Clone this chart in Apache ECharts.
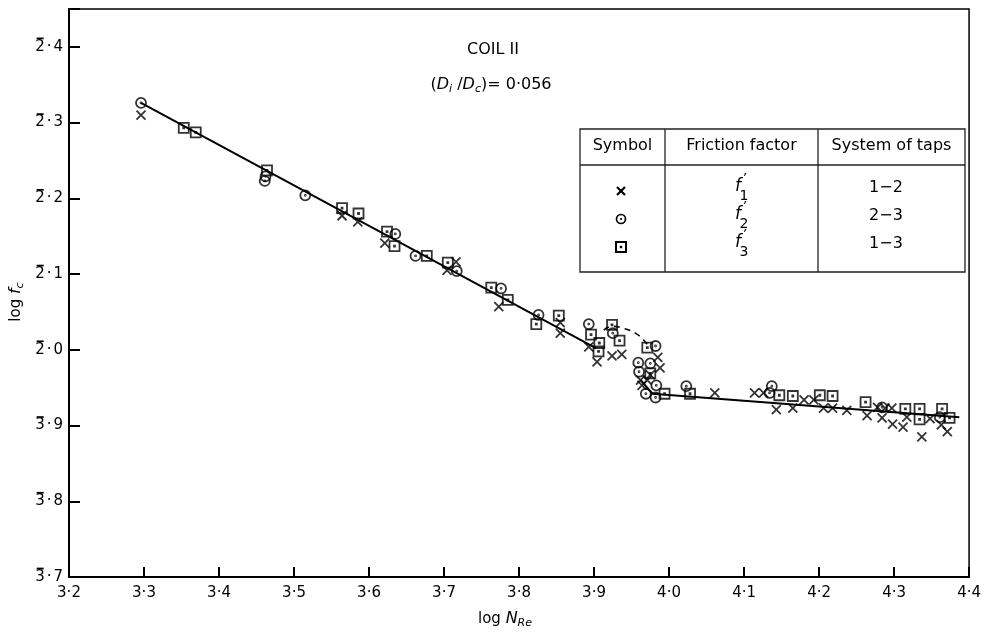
<!DOCTYPE html>
<html><head><meta charset="utf-8">
<script src="https://cdn.jsdelivr.net/npm/echarts@6/dist/echarts.min.js"></script>
<style>html,body{margin:0;padding:0;background:#fff}#c{width:984px;height:632px}</style>
</head><body><div id="c"></div>
<script>
// ---------- data ----------
const xTickValues = [3.2,3.3,3.4,3.5,3.6,3.7,3.8,3.9,4.0,4.1,4.2,4.3,4.4];
const xTickLabels = ['3·2','3·3','3·4','3·5','3·6','3·7','3·8','3·9','4·0','4·1','4·2','4·3','4·4'];
const yTickValues = [-2.3,-2.2,-2.1,-2.0,-1.9,-1.8,-1.7,-1.6];
// characteristic digit (shown with a bar: 3̄, 2̄) and mantissa digit
const yTickChar = ['3','3','3','2','2','2','2','2'];
const yTickMant = ['7','8','9','0','1','2','3','4'];

// f'1 (taps 1-2), crosses
const f1X = [3.296,3.564,3.585,3.621,3.704,3.716,3.773,3.855,3.855,3.893,3.904,3.924,3.937,3.962,3.964,3.971,3.975,3.985,3.988,
             4.061,4.114,4.126,4.143,4.165,4.180,4.193,4.206,4.218,4.237,4.264,4.278,4.288,4.297,4.284,4.298,4.312,4.317,4.337,4.348,4.363,4.371];
const f1Y = [-1.690,-1.823,-1.831,-1.859,-1.895,-1.884,-1.943,-1.964,-1.978,-1.996,-2.016,-2.008,-2.006,-2.040,-2.047,-2.040,-2.033,-2.010,-2.024,
             -2.057,-2.057,-2.057,-2.079,-2.077,-2.066,-2.066,-2.077,-2.077,-2.080,-2.087,-2.076,-2.077,-2.077,-2.090,-2.098,-2.102,-2.089,-2.115,-2.091,-2.099,-2.108];
// f'2 (taps 2-3), dotted circles
const f2X = [3.296,3.462,3.461,3.515,3.635,3.662,3.717,3.776,3.826,3.893,3.925,3.982,3.959,3.960,3.975,3.983,3.969,3.982,4.023,4.137,4.134,4.284,4.361];
const f2Y = [-1.674,-1.771,-1.777,-1.796,-1.847,-1.876,-1.896,-1.919,-1.954,-1.966,-1.978,-1.995,-2.017,-2.029,-2.018,-2.047,-2.058,-2.063,-2.048,-2.048,-2.057,-2.076,-2.089];
// f'3 (taps 1-3), dotted squares
const f3X = [3.353,3.369,3.464,3.564,3.586,3.624,3.634,3.677,3.705,3.763,3.785,3.823,3.853,3.896,3.907,3.906,3.924,3.934,3.971,3.975,3.994,
             4.028,4.147,4.165,4.201,4.218,4.262,4.315,4.334,4.334,4.364,4.374];
const f3Y = [-1.707,-1.713,-1.763,-1.813,-1.820,-1.844,-1.863,-1.876,-1.885,-1.918,-1.934,-1.966,-1.955,-1.980,-1.991,-2.002,-1.967,-1.988,-1.997,-2.031,-2.058,
             -2.058,-2.060,-2.061,-2.060,-2.061,-2.069,-2.078,-2.078,-2.092,-2.078,-2.090];
// fitted lines
const lamLineX = [3.296, 3.903];
const lamLineY = [-1.674, -1.998];
const turbLineX = [3.962, 3.978, 4.387];
const turbLineY = [-2.040, -2.058, -2.089];
const dashX = [3.913, 3.925, 3.940, 3.955, 3.966, 3.973];
const dashY = [-1.974, -1.969, -1.972, -1.978, -1.987, -1.996];

// ---------- chart ----------
const FONT = 'DejaVu Sans';
const INK = '#000';
const LABEL_SIZE = 15, LABEL_MARGIN = 6, DOT_PAD = 2, GRID_LEFT = 69;
const pairs = (xs, ys) => xs.map((x, i) => [x, ys[i]]);
const findIdx = (arr, v) => arr.findIndex(t => Math.abs(t - v) < 1e-6);

const SYM_X = 'path://M2,2L18,18M18,2L2,18';
const SYM_O = 'path://M10,1A9,9,0,1,1,10,19A9,9,0,1,1,10,1Z M10,9.1A0.9,0.9,0,1,1,10,10.9A0.9,0.9,0,1,1,10,9.1Z';
const SYM_S = 'path://M1,1H19V19H1Z M9.1,9.1H10.9V10.9H9.1Z';

const markStyle = {color: 'transparent', borderColor: INK, borderWidth: 1.8};

function tableSym(kind, cx, cy) {
  if (kind === 'x') return {type: 'group', children: [
    {type: 'line', shape: {x1: cx-4, y1: cy-4, x2: cx+4, y2: cy+4}, style: {stroke: INK, lineWidth: 2.2}},
    {type: 'line', shape: {x1: cx+4, y1: cy-4, x2: cx-4, y2: cy+4}, style: {stroke: INK, lineWidth: 2.2}}]};
  if (kind === 'o') return {type: 'group', children: [
    {type: 'circle', shape: {cx: cx, cy: cy, r: 4.5}, style: {fill: 'none', stroke: INK, lineWidth: 1.7}},
    {type: 'circle', shape: {cx: cx, cy: cy, r: 1.1}, style: {fill: INK}}]};
  return {type: 'group', children: [
    {type: 'rect', shape: {x: cx-5, y: cy-5, width: 10, height: 10}, style: {fill: 'none', stroke: INK, lineWidth: 2}},
    {type: 'rect', shape: {x: cx-1.2, y: cy-1.2, width: 2.4, height: 2.4}, style: {fill: INK}}]};
}
function txt(text, x, y, size, extra) {
  return {type: 'text', x: x, y: y, style: Object.assign({text: text, fontSize: size, fontFamily: FONT, fill: INK, align: 'center', verticalAlign: 'middle'}, extra || {})};
}
function fPrime(x, y, n) {
  return {type: 'group', children: [
    txt('f', x, y, 17, {fontStyle: 'italic'}),
    txt('\u2019', x + 6, y - 8, 13, {fontStyle: 'italic'}),
    txt(String(n), x + 6, y + 9, 14)
  ]};
}

const tableL = 580, tableR = 965, tableT = 129, tableB = 272, headB = 165, col1 = 665, col2 = 818;
const rowsY = [188, 216, 244];
const symNames = ['x', 'o', 's'];
const tapNames = ['1\u22122', '2\u22123', '1\u22123'];

const richSub = (size) => ({
  i: {fontStyle: 'italic', fontSize: size, fontFamily: FONT, lineHeight: 20, verticalAlign: 'middle', color: INK},
  s: {fontStyle: 'italic', fontSize: Math.round(size * 0.68), fontFamily: FONT, lineHeight: 11, verticalAlign: 'bottom', color: INK}
});

const graphic = [
  txt('COIL II', 493, 50, 16),
  {type: 'text', x: 491, y: 85, style: {
    text: '({i|D}{s|i} /{i|D}{s|c})= 0·056', fontSize: 16, fontFamily: FONT, fill: INK, align: 'center', verticalAlign: 'middle',
    rich: richSub(16)}},
  {type: 'text', x: 505, y: 619, style: {
    text: 'log {i|N}{s|Re}', fontSize: 15, fontFamily: FONT, fill: INK, align: 'center', verticalAlign: 'middle',
    rich: richSub(16)}},
  {type: 'text', x: 16, y: 302, rotation: Math.PI / 2, style: {
    text: 'log {i|f}{s|c}', fontSize: 15, fontFamily: FONT, fill: INK, align: 'center', verticalAlign: 'middle',
    rich: richSub(16)}},
  // table
  {type: 'rect', shape: {x: tableL, y: tableT, width: tableR - tableL, height: tableB - tableT}, style: {fill: '#fff', stroke: '#222', lineWidth: 1.3}},
  {type: 'line', shape: {x1: tableL, y1: headB, x2: tableR, y2: headB}, style: {stroke: '#222', lineWidth: 1.3}},
  {type: 'line', shape: {x1: col1, y1: tableT, x2: col1, y2: tableB}, style: {stroke: '#222', lineWidth: 1.3}},
  {type: 'line', shape: {x1: col2, y1: tableT, x2: col2, y2: tableB}, style: {stroke: '#222', lineWidth: 1.3}},
  txt('Symbol', (tableL + col1) / 2, 146, 16),
  txt('Friction factor', (col1 + col2) / 2, 146, 16),
  txt('System of taps', (col2 + tableR) / 2, 146, 16)
];
rowsY.forEach((y, i) => {
  graphic.push(tableSym(symNames[i], 621, y + 3));
  graphic.push(fPrime(738, y - 1, i + 1));
  graphic.push(txt(tapNames[i], 886, y, 16));
});

const chart = echarts.init(document.getElementById('c'), null, {renderer: 'canvas'});
chart.setOption({
  animation: false,
  backgroundColor: '#fff',
  grid: {left: GRID_LEFT, right: 8, top: 9, bottom: 55, show: true, borderColor: INK, borderWidth: 1.5, backgroundColor: 'transparent'},
  xAxis: {
    type: 'value', min: 3.2, max: 4.4, interval: 0.1,
    axisLine: {lineStyle: {color: INK, width: 2}},
    axisTick: {inside: true, length: 10, lineStyle: {color: INK, width: 2}},
    splitLine: {show: false},
    axisLabel: {color: INK, fontSize: 15, fontFamily: FONT, margin: 9,
      formatter: v => { const k = findIdx(xTickValues, v); return k < 0 ? '' : xTickLabels[k]; }}
  },
  yAxis: {
    type: 'value', min: -2.3, max: -1.55, interval: 0.1,
    axisLine: {lineStyle: {color: INK, width: 2}},
    axisTick: {inside: true, length: 11, lineStyle: {color: INK, width: 2}},
    splitLine: {show: false},
    axisLabel: {color: INK, fontSize: LABEL_SIZE, fontFamily: FONT, margin: LABEL_MARGIN,
      formatter: v => { const k = findIdx(yTickValues, v); if (k < 0) return ''; return '{n|' + yTickChar[k] + '}{p|·}{n|' + yTickMant[k] + '}'; },
      rich: {
        n: {fontSize: LABEL_SIZE, fontFamily: FONT, color: INK},
        p: {fontSize: LABEL_SIZE, fontFamily: FONT, color: INK, padding: [0, DOT_PAD, 0, DOT_PAD]}}}
  },
  series: [
    {type: 'line', data: pairs(lamLineX, lamLineY), showSymbol: false, lineStyle: {color: INK, width: 2}, z: 2},
    {type: 'line', data: pairs(turbLineX, turbLineY), showSymbol: false, lineStyle: {color: INK, width: 2}, z: 2},
    {type: 'line', data: pairs(dashX, dashY), showSymbol: false, smooth: true, lineStyle: {color: INK, width: 1.6, type: [6, 5]}, z: 2},
    {name: "f'1", type: 'scatter', data: pairs(f1X, f1Y), symbol: SYM_X, symbolSize: 9, itemStyle: markStyle, z: 3},
    {name: "f'2", type: 'scatter', data: pairs(f2X, f2Y), symbol: SYM_O, symbolSize: 10, itemStyle: markStyle, z: 3},
    {name: "f'3", type: 'scatter', data: pairs(f3X, f3Y), symbol: SYM_S, symbolSize: 10, itemStyle: markStyle, z: 3}
  ],
  graphic: graphic
});

// bars over the characteristic digit of each y tick label (bar notation, e.g. 2̄·4)
const mctx = document.createElement('canvas').getContext('2d');
mctx.font = LABEL_SIZE + 'px "' + FONT + '"';
const bars = yTickValues.map((v, k) => {
  const wc = mctx.measureText(yTickChar[k]).width;
  const total = wc + mctx.measureText('·').width + 2 * DOT_PAD + mctx.measureText(yTickMant[k]).width;
  const right = GRID_LEFT - LABEL_MARGIN;
  const left = right - total;
  const py = chart.convertToPixel({yAxisIndex: 0}, v);
  return {type: 'line', id: 'bar' + k, shape: {x1: left + 1.5, y1: py - 8.5, x2: left + wc - 1, y2: py - 8.5}, style: {stroke: INK, lineWidth: 1.7}};
});
chart.setOption({graphic: graphic.concat(bars)});
</script></body></html>
